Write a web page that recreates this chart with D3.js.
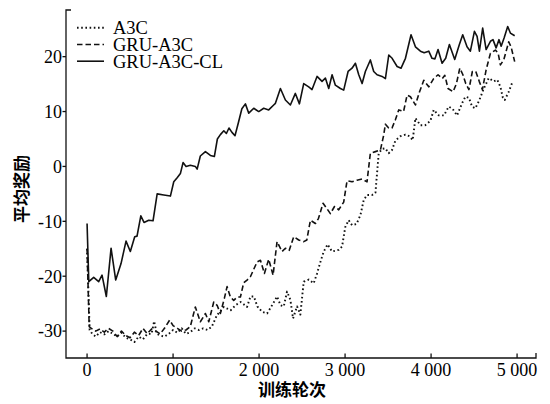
<!DOCTYPE html>
<html>
<head>
<meta charset="utf-8">
<script src="https://cdn.jsdelivr.net/npm/d3@7"></script>
<style>
  body { margin: 0; background: #fff; }
  svg { display: block; }
</style>
</head>
<body>
<svg id="chart" width="550" height="404"></svg>
<script>
// series names + legend order
const seriesNames = ["A3C", "GRU-A3C", "GRU-A3C-CL"];

const xTicks = [0, 1000, 2000, 3000, 4000, 5000];
const xTickLabels = ["0", "1 000", "2 000", "3 000", "4 000", "5 000"];
const yTicks = [-30, -20, -10, 0, 10, 20];

// [episode, mean reward]
const a3c = [[0,-15],[30,-29.8],[60,-30.5],[100,-31],[150,-30.2],[200,-30.6],[250,-30],[300,-30.5],[350,-31],[400,-30.3],
  [450,-31.2],[500,-31.5],[550,-32],[600,-31],[650,-31.5],[700,-30.5],[750,-30.5],[780,-28.2],[810,-30.5],[850,-30.8],
  [900,-31],[950,-30.5],[1000,-29.8],[1050,-30.3],[1100,-29.5],[1150,-30.5],[1200,-30.2],[1250,-29.5],[1300,-29.8],[1350,-29.5],
  [1400,-29.8],[1450,-29.2],[1510,-27.1],[1590,-25.6],[1670,-26.2],[1725,-25.3],[1785,-24.7],[1860,-25.6],[1900,-23.7],[1940,-23.7],
  [1980,-25.5],[2035,-26.5],[2093,-26.8],[2151,-25.3],[2209,-23.7],[2250,-25.3],[2287,-25.5],[2325,-22.8],[2364,-24.3],[2395,-27.7],
  [2442,-25.5],[2480,-27.0],[2519,-21.0],[2577,-20.6],[2635,-21.3],[2674,-19.5],[2713,-17.4],[2752,-15.5],[2797,-14.2],[2848,-15.5],
  [2926,-15.2],[2965,-14.6],[3003,-11.0],[3042,-9.8],[3081,-10.7],[3132,-10.5],[3178,-8.9],[3217,-6.1],[3256,-5.2],[3314,-5.2],
  [3353,-4.8],[3391,2.4],[3430,3.2],[3469,3.3],[3507,2.4],[3546,3.0],[3585,4.7],[3643,5.5],[3702,5.8],[3750,5.5],
  [3786,4.8],[3818,8.8],[3876,7.5],[3930,7.5],[3992,8.3],[4031,10.3],[4089,9.3],[4150,9.3],[4205,10.9],[4250,10.5],
  [4302,9.3],[4360,11.5],[4399,12.7],[4440,12.5],[4477,10.9],[4515,10.6],[4562,12.1],[4613,14.2],[4671,16.1],[4729,15.5],
  [4770,15.8],[4806,14.5],[4835,12.5],[4856,12.1],[4900,13.5],[4949,15.5]];

const gruA3c = [[0,-15],[25,-29.2],[50,-29.5],[100,-30],[150,-29.6],[200,-30.2],[250,-29.5],[300,-30],[350,-31],[400,-30],
  [450,-30.8],[500,-31.2],[550,-30.2],[600,-30.8],[650,-29.5],[700,-30.5],[750,-29.6],[800,-30],[850,-30.5],[900,-29.5],
  [960,-28.0],[1000,-29],[1050,-29.5],[1100,-30],[1150,-29.8],[1200,-29.2],[1259,-25.6],[1317,-28.3],[1376,-26.8],[1415,-28.3],
  [1473,-24.7],[1512,-25.3],[1550,-26.8],[1597,-24.0],[1628,-21.9],[1667,-23.8],[1705,-24.4],[1744,-23.8],[1783,-23.8],[1821,-21.2],
  [1860,-20.7],[1899,-20.1],[1977,-17.4],[2016,-17.1],[2062,-19.5],[2112,-16.9],[2163,-19.8],[2209,-13.7],[2267,-15.5],[2306,-14.9],
  [2350,-15.3],[2403,-12.8],[2461,-13.4],[2519,-13.7],[2555,-13.4],[2597,-9.8],[2655,-10.4],[2690,-9.5],[2744,-6.7],[2785,-7.6],
  [2829,-8.6],[2877,-7.3],[2926,-7.9],[2984,-6.5],[3023,-2.6],[3081,-2.8],[3139,-2.5],[3197,-2.3],[3255,-2.8],[3294,2.4],
  [3353,2.7],[3411,3.0],[3449,5.7],[3469,7.7],[3507,7.0],[3546,7.0],[3585,8.5],[3624,10.3],[3680,10.0],[3721,13.0],
  [3760,12.7],[3818,11.2],[3864,13.5],[3915,15.7],[3973,14.5],[4030,16.0],[4081,16.7],[4130,16.0],[4160,16.6],[4197,14.2],
  [4256,13.6],[4295,15.1],[4334,17.9],[4370,16.7],[4403,15.1],[4440,14.0],[4480,17.3],[4520,17.3],[4560,15.5],[4597,14.0],
  [4640,17.6],[4690,20.6],[4748,21.2],[4780,20.6],[4806,18.5],[4845,19.4],[4903,22.7],[4930,21.8],[4972,19.1]];

const gruA3cCl = [[0,-10.4],[20,-21],[77,-20.2],[135,-21],[174,-19.8],[224,-23.7],[279,-14.9],[333,-20.7],[395,-17.7],[453,-13.6],
  [503,-15.5],[554,-12.8],[581,-12.7],[625,-9.0],[662,-10.2],[717,-9.8],[767,-9.9],[815,-5.0],[892,-5.2],[969,-5.4],
  [1008,-2.8],[1050,-2.0],[1085,-1.3],[1116,0.7],[1151,0],[1201,0.2],[1259,0],[1280,-0.5],[1317,1.9],[1376,2.7],
  [1434,2.0],[1480,1.8],[1515,5.0],[1550,5.8],[1590,6.5],[1620,6.0],[1650,7.0],[1685,6.2],[1720,5.6],[1760,8.0],
  [1800,10.5],[1841,11.4],[1880,9.7],[1938,10.6],[1996,10.0],[2054,10.6],[2112,10.3],[2170,11.2],[2190,11.5],[2248,14.2],
  [2306,12.1],[2364,11.2],[2422,13.3],[2469,11.4],[2519,15.1],[2577,14.5],[2616,14.0],[2674,16.4],[2732,15.5],[2771,16.1],
  [2810,14.2],[2849,16.7],[2887,14.8],[2946,14.2],[2984,13.9],[3035,17.3],[3081,17.9],[3120,18.8],[3159,16.7],[3198,15.1],
  [3236,17.3],[3294,19.4],[3333,17.3],[3372,16.7],[3430,16.4],[3469,16.0],[3508,20.3],[3547,19.7],[3605,18.2],[3651,17.9],
  [3702,19.7],[3767,24.0],[3818,21.8],[3876,21.0],[3920,20.7],[3973,21.0],[4011,19.7],[4045,19.6],[4081,21.3],[4128,18.8],
  [4170,19.7],[4213,22.2],[4275,19.5],[4329,22.2],[4368,24.0],[4418,21.8],[4457,21.0],[4504,24.6],[4535,23.7],[4562,21.0],
  [4600,25.2],[4640,21.3],[4690,22.8],[4720,23.1],[4756,21.6],[4790,23.1],[4815,21.9],[4849,23.4],[4891,25.5],[4922,24.3],
  [4972,23.8]];

const seriesData = [a3c, gruA3c, gruA3cCl];
const dashes = ["1.6,2.6", "5.5,3", null];

const svg = d3.select("#chart");
const plot = { left: 66, right: 536, top: 10, bottom: 358 };
const serif = "'Liberation Serif', 'Times New Roman', serif";
const cjk = "'Noto Sans CJK SC', sans-serif";

const x = d3.scaleLinear().domain([-245, 5220]).range([plot.left, plot.right]);
const y = d3.scaleLinear().domain([-34.9, 28.5]).range([plot.bottom, plot.top]);

// axes drawn by hand: y ticks point out, x ticks point in
const ax = svg.append("g").attr("stroke", "#111").attr("stroke-width", 1.3).attr("fill", "none");
ax.append("path").attr("d", `M${plot.left + 5},${plot.top}H${plot.left}V${plot.bottom}H${plot.right}V${plot.bottom - 5}`);

ax.selectAll(".yt").data(yTicks).enter().append("line")
  .attr("x1", plot.left - 3.5).attr("x2", plot.left)
  .attr("y1", d => y(d)).attr("y2", d => y(d));

ax.selectAll(".xt").data(xTicks).enter().append("line")
  .attr("x1", d => x(d)).attr("x2", d => x(d))
  .attr("y1", plot.bottom).attr("y2", plot.bottom - 4.5);

svg.selectAll(".ylab").data(yTicks).enter().append("text")
  .attr("x", plot.left - 4).attr("y", d => y(d)).attr("dy", "0.35em")
  .attr("text-anchor", "end")
  .style("font-family", serif).style("font-size", "18px")
  .text(d => d);

svg.selectAll(".xlab").data(xTicks).enter().append("text")
  .attr("x", d => x(d)).attr("y", 376)
  .attr("text-anchor", "middle")
  .style("font-family", serif).style("font-size", "18px")
  .text((d, i) => xTickLabels[i]);

svg.append("text")
  .attr("x", 292).attr("y", 396)
  .attr("text-anchor", "middle")
  .style("font-family", cjk).style("font-size", "17px").style("font-weight", 700)
  .text("训练轮次");

svg.append("text")
  .attr("transform", "translate(28,189) rotate(-90)")
  .attr("text-anchor", "middle")
  .style("font-family", cjk).style("font-size", "17px").style("font-weight", 700)
  .text("平均奖励");

const line = d3.line().x(d => x(d[0])).y(d => y(d[1]));

svg.selectAll(".series").data(seriesData).enter().append("path")
  .attr("d", line)
  .attr("fill", "none")
  .attr("stroke", "#111")
  .attr("stroke-width", (d, i) => i === 0 ? 1.9 : 1.6)
  .attr("stroke-linejoin", "round")
  .attr("stroke-dasharray", (d, i) => dashes[i]);

// legend
const leg = svg.append("g");
const legY = [27.8, 44.5, 61.2];
seriesNames.forEach((name, i) => {
  leg.append("line")
    .attr("x1", 77).attr("x2", 104)
    .attr("y1", legY[i]).attr("y2", legY[i])
    .attr("stroke", "#111")
    .attr("stroke-width", i === 0 ? 1.9 : 1.6)
    .attr("stroke-dasharray", dashes[i]);
  leg.append("text")
    .attr("x", 113).attr("y", legY[i]).attr("dy", "0.35em")
    .style("font-family", serif).style("font-size", "18.5px")
    .text(name);
});
</script>
</body>
</html>
